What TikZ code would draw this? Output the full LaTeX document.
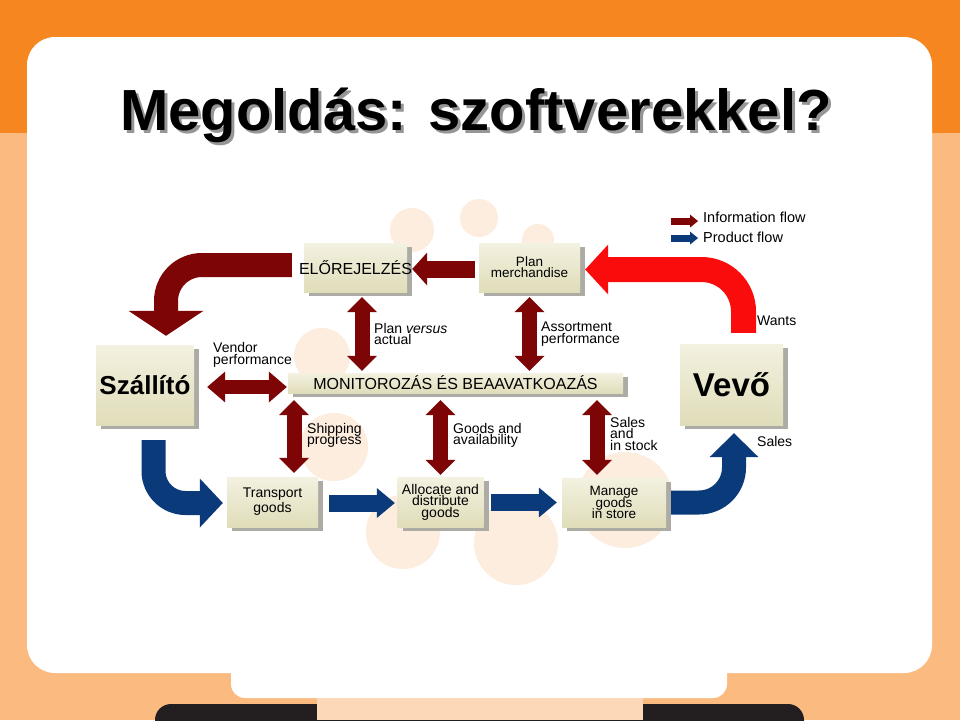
\documentclass[tikz,border=0pt]{standalone}
\usepackage{fontspec}
\setmainfont{Liberation Sans}
\usetikzlibrary{arrows.meta}
\usetikzlibrary{shadows}

\definecolor{orangetop}{RGB}{246,134,31}
\definecolor{peach}{RGB}{251,187,128}
\definecolor{peachlight}{RGB}{252,216,184}
\definecolor{barblack}{RGB}{35,31,32}
\definecolor{blob}{RGB}{253,237,222}
\definecolor{boxtop}{RGB}{243,241,224}
\definecolor{boxbot}{RGB}{224,221,186}
\definecolor{shadowgray}{RGB}{172,172,164}
\definecolor{titleshadow}{RGB}{150,150,150}
\definecolor{infored}{RGB}{125,5,5}
\definecolor{prodblue}{RGB}{10,58,122}
\definecolor{wantred}{RGB}{250,12,12}

\lineskiplimit=-100pt

\begin{document}
\begin{tikzpicture}
[x=1pt,y=-1pt,%
  box/.style={top color=boxtop,bottom color=boxbot,inner sep=2pt,align=center,%
    drop shadow={shadow xshift=5pt,shadow yshift=-4pt,fill=shadowgray,opacity=1}},%
  lbl/.style={anchor=west,inner sep=0pt,align=left,font=\fontsize{14}{11.5}\selectfont},%
  titletext/.style={anchor=base,inner sep=0pt,font=\bfseries\fontsize{58}{60}\selectfont},%
  block/.style n args={3}{line width=#1,-{Triangle[width=#2,length=#3,line width=0pt]}},%
  dblock/.style n args={3}{line width=#1,%
    {Triangle[width=#2,length=#3,line width=0pt]}-{Triangle[width=#2,length=#3,line width=0pt]}}]
\useasboundingbox (0,0) rectangle (960,720);
\clip (0,0) rectangle (960,720);
% background
\fill[peach] (0,0) rectangle (960,720);
\fill[orangetop] (0,0) rectangle (960,133);
\fill[white,rounded corners=14pt] (231,600) rectangle (727,698);
\fill[white,rounded corners=28pt] (27,37) rectangle (932,673);
\fill[barblack,rounded corners=16pt] (155,704) rectangle (804,760);
\fill[peachlight] (317,698) rectangle (643,720);
\foreach \cx/\cy/\r in {412/230/22,479/218/19,538/240/16,322/356/28,%
  334/447/34,403/532/37,516/543/42,625/500/48}
  \fill[blob] (\cx,\cy) circle[radius=\r];
% title
\node[titletext,text=titleshadow] (shade) at (479,133) {Megoldás: szoftverekkel?};
\node[titletext] (title) at ([xshift=-3pt,yshift=3pt]shade.base) {Megoldás: szoftverekkel?};
% legend
\node[lbl,anchor=base west,font=\fontsize{14.5}{14}\selectfont] (infolbl) at (703,222) {Information flow};
\node[lbl,anchor=base west,font=\fontsize{14.5}{14}\selectfont] (prodlbl) at (703,242) {Product flow};
\draw[infored,block={7pt}{13pt}{8pt}] ([xshift=-32pt,yshift=-4.25pt]infolbl.west) -- ([xshift=-5pt,yshift=-4.25pt]infolbl.west);
\draw[prodblue,block={7pt}{13pt}{8pt}] ([xshift=-32pt,yshift=-1.25pt]prodlbl.west) -- ([xshift=-5pt,yshift=-1.25pt]prodlbl.west);
% boxes
\node[box,minimum width=103pt,minimum height=49pt,font=\fontsize{16}{16}\selectfont] (elo) at (355.5,267.5) {\makebox[0pt]{ELŐREJELZÉS}};
\node[box,minimum width=101pt,minimum height=49pt,font=\fontsize{13.5}{11}\selectfont] (plan) at (529.5,267.5) {Plan\\merchandise};
\node[box,minimum width=335pt,minimum height=20pt,font=\fontsize{16}{16}\selectfont] (monitor) at (455.5,383) {MONITOROZÁS ÉS BEAAVATKOAZÁS};
\node[box,minimum width=98pt,minimum height=80pt,font=\bfseries\fontsize{26}{26}\selectfont] (szallito) at (145,385) {Szállító};
\node[box,minimum width=103pt,minimum height=81pt,font=\bfseries\fontsize{33}{33}\selectfont] (vevo) at (731.5,384.5) {Vevő};
\node[box,minimum width=91pt,minimum height=50pt,font=\fontsize{14}{15}\selectfont] (transport) at (272.5,502) {Transport\\goods};
\node[box,minimum width=86pt,minimum height=50pt,font=\fontsize{14}{11.5}\selectfont] (allocate) at (440.5,502) {Allocate and\\distribute\\goods};
\node[box,minimum width=104pt,minimum height=49pt,font=\fontsize{13.5}{11.5}\selectfont] (manage) at (614,502.5) {Manage\\goods\\in store};
% labels
\node[lbl] (vendorlbl) at (213,355) {Vendor\\performance};
\node[lbl] (pvalbl) at (374,334) {Plan \textit{versus}\\actual};
\node[lbl] (assortlbl) at (541,334) {Assortment\\performance};
\node[lbl] (shiplbl) at (307,435.5) {Shipping\\progress};
\node[lbl] (goodslbl) at (453,435.5) {Goods and\\availability};
\node[lbl] (saleslbl) at (610,433.5) {Sales\\and\\in stock};
\node[lbl] (wantslbl) at (757,321) {Wants};
\node[lbl] (soldlbl) at (757,441.5) {Sales};
% information flow
\draw[infored,block={17pt}{33pt}{15pt}] ([xshift=-4pt,yshift=-1.5pt]plan.west) -- ([xshift=5pt,yshift=-1.5pt]elo.east);
\draw[infored,dblock={15pt}{30pt}{15pt}] ([xshift=6.5pt,yshift=-5pt]elo.south) -- ([xshift=6.5pt,yshift=2pt]elo.south |- monitor.north);
\draw[infored,dblock={15pt}{30pt}{15pt}] ([yshift=-5pt]plan.south) -- ([yshift=2pt]plan.south |- monitor.north);
\draw[infored,dblock={14pt}{31pt}{18pt}] ([xshift=13pt,yshift=-2pt]szallito.east) -- ([xshift=-1pt,yshift=-4pt]monitor.west);
\draw[infored,dblock={15pt}{30pt}{15pt}] ([xshift=21.5pt,yshift=-7pt]transport.north |- monitor.south) -- ([xshift=21.5pt,yshift=4pt]transport.north);
\draw[infored,dblock={15pt}{30pt}{15pt}] ([yshift=-7pt]allocate.north |- monitor.south) -- ([yshift=2pt]allocate.north);
\draw[infored,dblock={15pt}{30pt}{15pt}] ([xshift=-17pt,yshift=-7pt]manage.north |- monitor.south) -- ([xshift=-17pt,yshift=3pt]manage.north);
\draw[infored,block={24pt}{75pt}{25pt},rounded corners=36pt] ([xshift=-12pt,yshift=2.5pt]elo.west) -| ([xshift=21pt,yshift=9pt]szallito.north);
\draw[wantred,block={25pt}{50pt}{23pt},rounded corners=42pt] ([xshift=12pt,yshift=11pt]vevo.north) |- ([xshift=5pt,yshift=-2pt]plan.east);
% product flow
\draw[prodblue,block={24pt}{49pt}{23pt},rounded corners=32pt] ([xshift=8.5pt,yshift=-15pt]szallito.south) |- ([xshift=-4pt,yshift=-1pt]transport.west);
\draw[prodblue,block={17pt}{30pt}{18pt}] ([xshift=11pt,yshift=-1pt]transport.east) -- ([xshift=-2.5pt,yshift=-1pt]allocate.west);
\draw[prodblue,block={17pt}{30pt}{18pt}] ([xshift=7.5pt,yshift=-0.5pt]allocate.east) -- ([xshift=-5pt]manage.west);
\draw[prodblue,block={24pt}{49pt}{24pt},rounded corners=35pt] ([xshift=5pt]manage.east) -| ([xshift=2.5pt,yshift=-8pt]vevo.south);
\end{tikzpicture}
\end{document}
